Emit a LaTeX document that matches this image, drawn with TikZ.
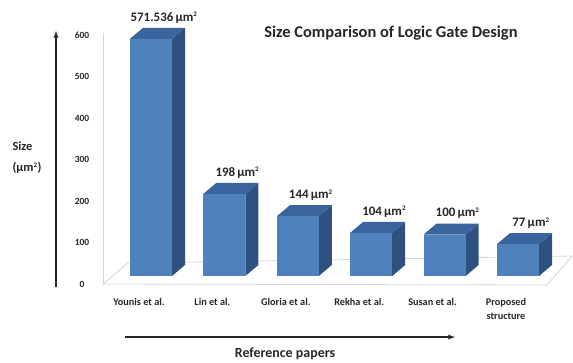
\documentclass[tikz,border=0pt]{standalone}
\usepackage{fontspec}
\setmainfont{Carlito}
\definecolor{barfront}{RGB}{79,129,189}
\definecolor{bartop}{RGB}{58,100,158}
\definecolor{barside}{RGB}{46,81,128}
\definecolor{floorgray}{RGB}{214,214,214}
\definecolor{ink}{RGB}{38,38,38}

\begin{document}
\begin{tikzpicture}[x=1bp,y=-1bp,
  every node/.style={text=ink,font=\bfseries},
  tick/.style={font=\bfseries\fontsize{9.5}{10}\selectfont},
  cat/.style={font=\bfseries\fontsize{10.3}{14}\selectfont,align=center,anchor=north},
  val/.style={font=\bfseries\fontsize{13}{14}\selectfont},
  axisline/.style={draw=ink,line width=1.3pt,->,>=latex},
  gridline/.style={draw=floorgray,line width=0.8pt}]
 \useasboundingbox (0,0) rectangle (573,362);
 % wall and floor
 \draw[gridline] (103,33) -- (103,284);
 \draw[gridline] (103,284) -- (547,285) -- (572,256) -- (128,263) -- cycle;
 % scale
 \node[tick] (t0) at (82,284) {0};
 \node[tick] (t100) at (82,242.5) {100};
 \node[tick] (t200) at (82,201) {200};
 \node[tick] (t300) at (82,159.5) {300};
 \node[tick] (t400) at (82,118) {400};
 \node[tick] (t500) at (82,76.5) {500};
 \node[tick] (t600) at (82,35) {600};
 % bars
 \foreach \i/\v/\name in {1/571.536/{Younis et al.},2/198/{Lin et al.},
   3/144/{Gloria et al.},4/104/{Rekha et al.},5/100/{Susan et al.},
   6/77/{Proposed\\structure}} {
   \pgfmathsetmacro\x{130+73.4*(\i-1)}
   \pgfmathsetmacro\t{276-0.415*\v}
   \fill[barside] (\x+42,\t) -- (\x+55,\t-11) -- (\x+55,265) -- (\x+42,276) -- cycle;
   \fill[bartop] (\x,\t) -- (\x+13,\t-11) -- (\x+55,\t-11) -- (\x+42,\t) -- cycle;
   \fill[barfront] (\x,\t) rectangle (\x+42,276);
   \node[val] (val\i) at (\x+34,\t-21) {\v\,µm\textsuperscript{\scriptsize 2}};
   \node[cat] (cat\i) at (\x+9,295) {\name};
 }
 % axes
 \coordinate (ybot) at (56,287);
 \coordinate (ytop) at (56,31);
 \coordinate (xleft) at (125,337);
 \coordinate (xright) at (455,337);
 \draw[axisline] (ybot) -- (ytop);
 \draw[axisline] (xleft) -- (xright);
 \node[anchor=west,align=left,font=\bfseries\fontsize{12.5}{21}\selectfont] (ylab) at (9,157.5) {Size\\(µm\textsuperscript{\scriptsize 2})};
 \node[font=\bfseries\fontsize{14}{16}\selectfont] (xlab) at (285,354) {Reference papers};
 \node[font=\bfseries\fontsize{16.5}{18}\selectfont] (title) at (391,33) {Size Comparison of Logic Gate Design};
\end{tikzpicture}
\end{document}
